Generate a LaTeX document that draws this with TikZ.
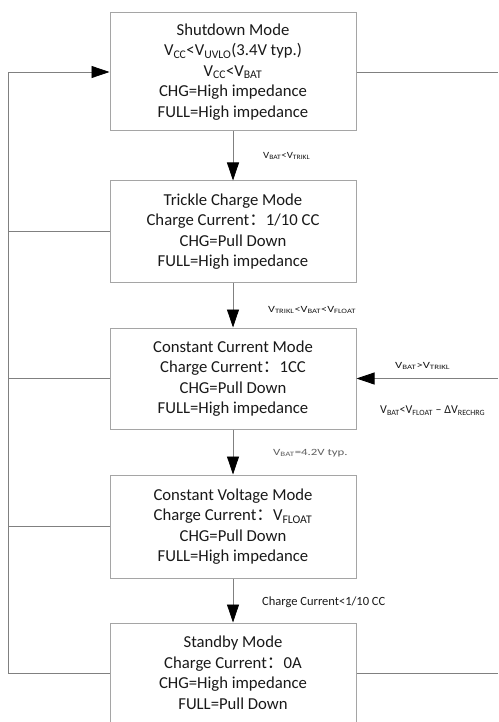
\documentclass[tikz,border=0pt]{standalone}
\usepackage{fontspec}
\setmainfont{Carlito}
\newfontfamily\cjk{Noto Sans CJK SC}
\usetikzlibrary{arrows.meta}
\definecolor{linec}{RGB}{128,128,128}
\definecolor{boxc}{RGB}{165,165,165}
\definecolor{txt}{RGB}{25,25,25}
\definecolor{lgray}{RGB}{95,95,95}
\newcommand\sbs[1]{\textsubscript{#1}}
\newcommand\fcolon{{\cjk ：}}
\newcommand\wide[2]{\scalebox{#1}[1]{#2}}
\begin{document}
\begin{tikzpicture}[x=1pt,y=-1pt,
  mode/.style={draw=boxc, line width=1pt, minimum width=246pt, inner sep=0pt, align=center, font=\fontsize{16.7}{20.5}\selectfont, text=txt},
  conn/.style={draw=linec, line width=0.8pt},
  arr/.style={conn, -{Triangle[length=18pt,width=12pt,color=black]}},
  lbl/.style={anchor=west, inner sep=0pt, font=\fontsize{9.5}{11}\selectfont, text=txt},
  lblm/.style={anchor=west, inner sep=0pt, font=\fontsize{12}{14}\selectfont, text=txt},
  lblb/.style={anchor=west, inner sep=0pt, font=\fontsize{12.5}{14}\selectfont, text=txt}
]
\useasboundingbox (0,0) rectangle (498,722);
\fill[white] (0,0) rectangle (498,722);
\coordinate (Lx) at (8,0);
\coordinate (Rx) at (498,0);
\node[mode, minimum height=118pt] (sd) at (233,72) {Shutdown Mode\\V\sbs{CC}<V\sbs{UVLO}(3.4V typ.)\\V\sbs{CC}<V\sbs{BAT}\\CHG=High impedance\\FULL=High impedance};
\node[mode, minimum height=101pt] (tc) at (233,231.5) {Trickle Charge Mode\\Charge Current\fcolon 1/10 CC\\CHG=Pull Down\\FULL=High impedance};
\node[mode, minimum height=101pt] (cc) at (233,378.5) {Constant Current Mode\\Charge Current\fcolon 1CC\\CHG=Pull Down\\FULL=High impedance};
\node[mode, minimum height=103pt] (cv) at (233,526.5) {Constant Voltage Mode\\Charge Current\fcolon V\sbs{FLOAT}\\CHG=Pull Down\\FULL=High impedance};
\node[mode, minimum height=100pt] (sb) at (233,673) {Standby Mode\\Charge Current\fcolon 0A\\CHG=High impedance\\FULL=Pull Down};
% vertical transitions
\draw[arr] (sd.south) -- (tc.north);
\draw[arr] (tc.south) -- (cc.north);
\draw[arr] (cc.south) -- (cv.north);
\draw[arr] (cv.south) -- (sb.north);
% left bus
\draw[arr] (sb.west) -- (sb.west -| Lx) -- (sd.west -| Lx) -- (sd.west);
\draw[conn] (tc.west) -- (tc.west -| Lx);
\draw[conn] (cc.west) -- (cc.west -| Lx);
\draw[conn] (cv.west) -- (cv.west -| Lx);
% right side
\draw[conn] (sd.east) -- (sd.east -| Rx);
\draw[conn] (sb.east) -- (sb.east -| Rx);
\draw[arr] (cc.east -| Rx) -- (cc.east);
% labels
\node[lbl] (l1) at (263,156) {\wide{1.14}{V\sbs{BAT}<V\sbs{TRIKL}}};
\node[lbl] (l2) at (268,310) {\wide{1.28}{V\sbs{TRIKL}<V\sbs{BAT}<V\sbs{FLOAT}}};
\node[lbl, text=lgray] (l3) at (273,453) {\wide{1.35}{V\sbs{BAT}=4.2V typ.}};
\node[lblb] (l4) at (262,602) {Charge Current<1/10 CC};
\node[lbl] (l5) at (395,366) {\wide{1.33}{V\sbs{BAT}>V\sbs{TRIKL}}};
\node[lblm] (l6) at (380,411) {V\sbs{BAT}<V\sbs{FLOAT} – ΔV\sbs{RECHRG}};
\end{tikzpicture}
\end{document}
